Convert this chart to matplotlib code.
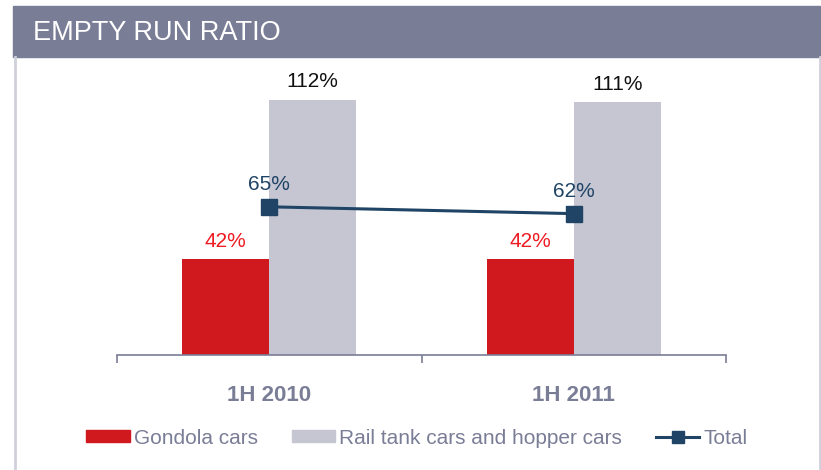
import matplotlib.pyplot as plt
from matplotlib.patches import Rectangle, Patch
from matplotlib.lines import Line2D

categories = ['1H 2010', '1H 2011']
gondola = [42, 42]
rail_tank = [112, 111]
total = [65, 62]

red = '#d0181f'
grey = '#c5c6d2'
navy = '#1f4466'
slate = '#7a7d96'

plt.rcParams['font.family'] = ['Liberation Sans', 'DejaVu Sans']

fig = plt.figure(figsize=(8.21, 4.70), dpi=100)
W, H = 821, 470

# header bar and frame
fig.patches.append(Rectangle((13 / W, 1 - 57 / H), 807 / W, 51 / H,
                             transform=fig.transFigure, color=slate, zorder=0))
fig.text(33 / W, 1 - 33 / H, 'EMPTY RUN RATIO', color='white', fontsize=19.5,
         va='center', ha='left')
fig.lines.append(Line2D([14.5 / W, 14.5 / W], [0, 1 - 57 / H], transform=fig.transFigure,
                        color='#d0d0dc', lw=2))
fig.lines.append(Line2D([820 / W, 820 / W], [0, 1 - 57 / H], transform=fig.transFigure,
                        color='#d0d0dc', lw=2))

# axes: x from 117 to 726 px, baseline at y=355 px
y_top = 355 - 2.28 * 125
ax = fig.add_axes([117 / W, 1 - 355 / H, (726 - 117) / W, (355 - y_top) / H])
ax.set_xlim(-0.5, 1.5)
ax.set_ylim(0, 125)

x = [0, 1]
bw = 0.286
ax.bar([i - bw / 2 for i in x], gondola, width=bw, color=red, zorder=2)
ax.bar([i + bw / 2 for i in x], rail_tank, width=bw, color=grey, zorder=2)
ax.plot(x, total, color=navy, lw=2.2, marker='s', markersize=12, zorder=3)

for i in x:
    ax.annotate(f'{gondola[i]}%', (i - bw / 2, gondola[i]), xytext=(0, 6),
                textcoords='offset points', ha='center', va='bottom', color='#ee1c24', fontsize=15)
    ax.annotate(f'{rail_tank[i]}%', (i + bw / 2, rail_tank[i]), xytext=(0, 6),
                textcoords='offset points', ha='center', va='bottom', color='#111111', fontsize=15)
    ax.annotate(f'{total[i]}%', (i, total[i]), xytext=(0, 9),
                textcoords='offset points', ha='center', va='bottom', color=navy, fontsize=15)

for s in ['top', 'left', 'right']:
    ax.spines[s].set_visible(False)
ax.spines['bottom'].set_color(slate)
ax.spines['bottom'].set_linewidth(1.2)
ax.set_yticks([])
ax.set_xticks([-0.5, 0.5, 1.5])
ax.set_xticklabels([])
ax.tick_params(axis='x', length=6, color=slate, width=1.2)
for i, c in enumerate(categories):
    ax.annotate(c, (i, 0), xytext=(0, -29), textcoords='offset points', ha='center',
                va='center', color=slate, fontsize=16, fontweight='bold')

handles = [Patch(color=red), Patch(color=grey),
           Line2D([], [], color=navy, lw=2.2, marker='s', markersize=9)]
labels = ['Gondola cars', 'Rail tank cars and hopper cars', 'Total']
leg = fig.legend(handles, labels, ncol=3, loc='center', bbox_to_anchor=(417 / W, 1 - 438 / H),
                 frameon=False, fontsize=15, handlelength=2.1, handleheight=0.5,
                 handletextpad=0.2, columnspacing=1.6, labelcolor=slate)

fig.savefig('out.png', dpi=100)
